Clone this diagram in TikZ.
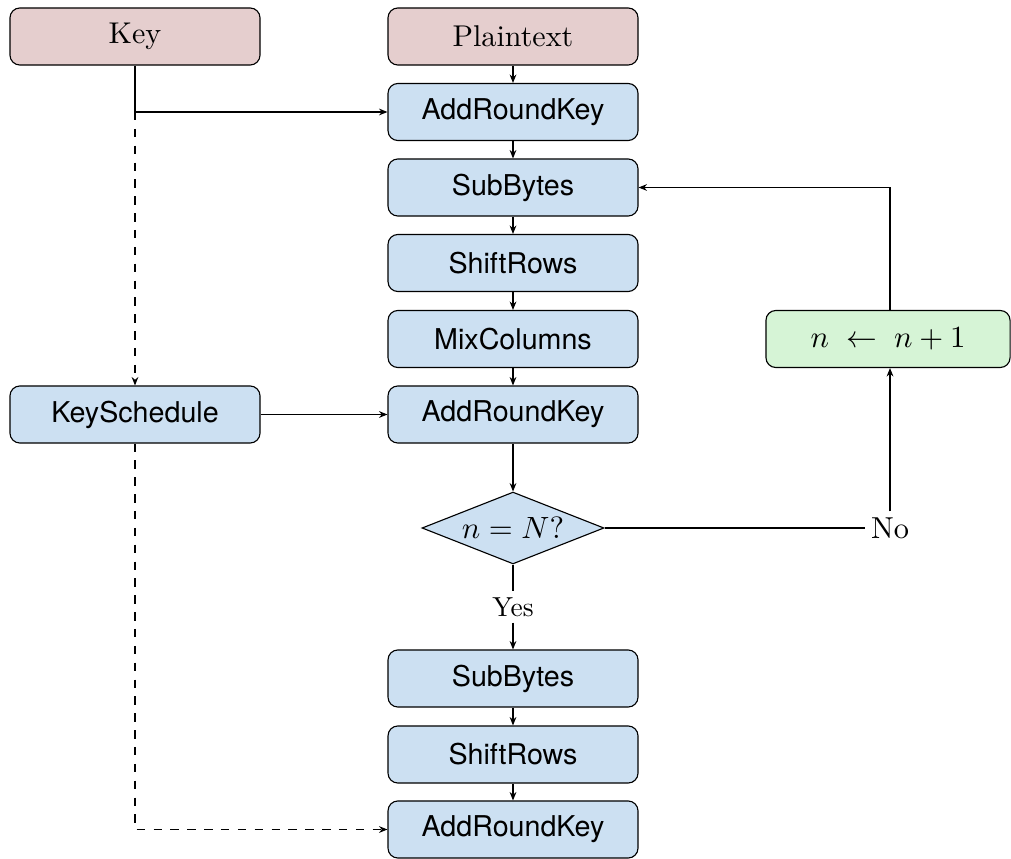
\documentclass[tikz,border=0pt]{standalone}
\usepackage{fontspec}
\setsansfont{TeX Gyre Heros}
\usetikzlibrary{shapes.geometric,arrows.meta}
\definecolor{pinkfill}{RGB}{229,206,206}
\definecolor{bluefill}{RGB}{204,224,242}
\definecolor{greenfill}{RGB}{214,244,214}
\begin{document}
\begin{tikzpicture}[x=0.356pt,y=-0.356pt,
  font=\fontsize{10.7}{13}\selectfont,
  base/.style={draw,rounded corners=3.5pt,minimum width=89pt,minimum height=20.3pt,inner sep=0pt},
  keybox/.style={base,fill=pinkfill},
  stepbox/.style={base,fill=bluefill,font=\sffamily\fontsize{10.2}{12}\selectfont},
  incbox/.style={base,fill=greenfill,minimum width=86.9pt},
  decbox/.style={diamond,draw,fill=bluefill,shape aspect=2.53,minimum width=64.8pt,minimum height=25.6pt,inner sep=0pt},
  arr/.style={-{Stealth[length=3pt,width=2.4pt]}},
  lbl/.style={inner sep=2pt}]
\useasboundingbox (0,0) rectangle (1011,859);
\node[keybox] (key) at (135,36.5) {Key};
\node[keybox] (plain) at (513,36.5) {Plaintext};
\node[stepbox] (ark1) at (513,112) {AddRoundKey};
\node[stepbox] (sb1) at (513,187.5) {SubBytes};
\node[stepbox] (sr1) at (513,263) {ShiftRows};
\node[stepbox] (mc) at (513,339) {MixColumns};
\node[stepbox] (ark2) at (513,414.5) {AddRoundKey};
\node[stepbox] (ks) at (135,414.5) {KeySchedule};
\node[decbox] (dec) at (513,528) {$n = N?$};
\node[lbl,font=\fontsize{10.8}{13}\selectfont] (no) at (890,528) {No};
\node[incbox] (inc) at (888,339) {$n \;\leftarrow\; n+1$};
\node[lbl,font=\fontsize{9.8}{12}\selectfont] (yes) at (513,607) {Yes};
\node[stepbox] (sb2) at (513,678.5) {SubBytes};
\node[stepbox] (sr2) at (513,754.5) {ShiftRows};
\node[stepbox] (ark3) at (513,829.5) {AddRoundKey};
\coordinate (kj) at (key.south |- ark1.west);
\draw[arr] (key.south) |- (ark1.west);
\draw[arr,dashed] (kj) -- (ks.north);
\draw[arr] (ks.east) -- (ark2.west);
\draw[arr,dashed] (ks.south) |- (ark3.west);
\draw[arr] (plain) -- (ark1);
\draw[arr] (ark1) -- (sb1);
\draw[arr] (sb1) -- (sr1);
\draw[arr] (sr1) -- (mc);
\draw[arr] (mc) -- (ark2);
\draw[arr] (ark2) -- (dec);
\draw (dec.east) -- (no.west);
\draw[arr] (no.north) -- (no.north |- inc.south);
\draw[arr] (inc.north -| no.north) |- (sb1.east);
\draw (dec.south) -- (yes.north);
\draw[arr] (yes.south) -- (sb2.north);
\draw[arr] (sb2) -- (sr2);
\draw[arr] (sr2) -- (ark3);
\end{tikzpicture}
\end{document}
